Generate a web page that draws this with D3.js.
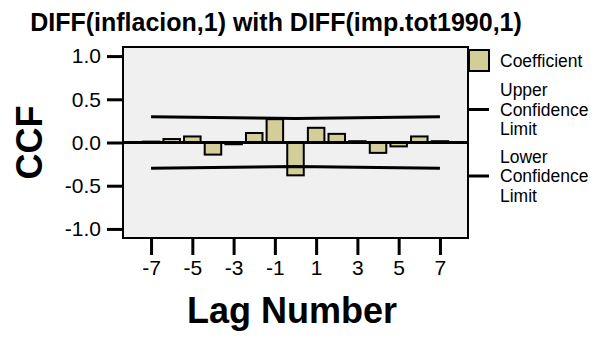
<!DOCTYPE html>
<html>
<head>
<meta charset="utf-8">
<script src="https://cdn.jsdelivr.net/npm/d3@7"></script>
<style>
  html, body { margin: 0; padding: 0; background: #fff; }
  svg { display: block; font-family: "Liberation Sans", Arial, sans-serif; }
</style>
</head>
<body>
<svg id="chart" width="614" height="341"></svg>
<script>
// Cross-correlation coefficients by lag
const lags = [-7, -6, -5, -4, -3, -2, -1, 0, 1, 2, 3, 4, 5, 6, 7];
const coefficients = [0.01, 0.04, 0.07, -0.14, -0.02, 0.11, 0.27, -0.38, 0.17, 0.10, 0.015, -0.12, -0.045, 0.07, 0.015];
const upperLimit = [0.299, 0.2955, 0.2922, 0.289, 0.2859, 0.2829, 0.28, 0.2772, 0.28, 0.2829, 0.2859, 0.289, 0.2922, 0.2955, 0.299];
const lowerLimit = [-0.299, -0.2955, -0.2922, -0.289, -0.2859, -0.2829, -0.28, -0.2772, -0.28, -0.2829, -0.2859, -0.289, -0.2922, -0.2955, -0.299];
const xTicks = [-7, -5, -3, -1, 1, 3, 5, 7];
const yTicks = [-1.0, -0.5, 0.0, 0.5, 1.0];

const svg = d3.select("#chart");
const plot = { left: 123, right: 468, top: 47, bottom: 238 };

const x = d3.scaleLinear().domain([-8.36, 8.36]).range([plot.left, plot.right]);
const y = d3.scaleLinear().domain([-1.105, 1.105]).range([plot.bottom, plot.top]);
const barW = (x(1) - x(0)) * 0.8;

const barFill = "#d3ce97";

// Plot background
svg.append("rect")
  .attr("x", plot.left).attr("y", plot.top)
  .attr("width", plot.right - plot.left).attr("height", plot.bottom - plot.top)
  .attr("fill", "#f0f0f0");

// Bars
svg.append("g").selectAll("rect")
  .data(lags.map((l, i) => ({ lag: l, v: coefficients[i] })))
  .join("rect")
  .attr("x", d => x(d.lag) - barW / 2)
  .attr("y", d => y(Math.max(0, d.v)))
  .attr("width", barW)
  .attr("height", d => Math.abs(y(d.v) - y(0)))
  .attr("fill", barFill)
  .attr("stroke", "#000")
  .attr("stroke-width", 2);

// Zero reference line
svg.append("line")
  .attr("x1", plot.left).attr("x2", plot.right)
  .attr("y1", y(0)).attr("y2", y(0))
  .attr("stroke", "#000").attr("stroke-width", 3);

// Confidence limits
const line = d3.line().x(d => x(d[0])).y(d => y(d[1]));
[upperLimit, lowerLimit].forEach(vals => {
  svg.append("path")
    .datum(lags.map((l, i) => [l, vals[i]]))
    .attr("d", line)
    .attr("fill", "none")
    .attr("stroke", "#000")
    .attr("stroke-width", 3);
});

// Frame
svg.append("rect")
  .attr("x", plot.left).attr("y", plot.top)
  .attr("width", plot.right - plot.left).attr("height", plot.bottom - plot.top)
  .attr("fill", "none").attr("stroke", "#000").attr("stroke-width", 2);

// Axes (plain hyphen for negative labels)
const yAxis = svg.append("g")
  .attr("transform", `translate(${plot.left},0)`)
  .call(d3.axisLeft(y).tickValues(yTicks).tickFormat(d => d.toFixed(1)).tickSize(16).tickPadding(6));
const xAxis = svg.append("g")
  .attr("transform", `translate(0,${plot.bottom})`)
  .call(d3.axisBottom(x).tickValues(xTicks).tickFormat(d => String(d)).tickSize(17).tickPadding(5));

[yAxis, xAxis].forEach(g => {
  g.select(".domain").remove();
  g.selectAll(".tick line").attr("stroke", "#000").attr("stroke-width", 3);
  g.selectAll(".tick text")
    .attr("fill", "#000")
    .attr("font-size", 21)
    .attr("font-family", "'Liberation Sans', Arial, sans-serif");
});

// Titles
svg.append("text")
  .attr("x", 276).attr("y", 31)
  .attr("text-anchor", "middle")
  .attr("font-size", 25).attr("font-weight", "bold")
  .text("DIFF(inflacion,1) with DIFF(imp.tot1990,1)");

svg.append("text")
  .attr("x", 292).attr("y", 323)
  .attr("text-anchor", "middle")
  .attr("font-size", 36).attr("font-weight", "bold")
  .text("Lag Number");

svg.append("text")
  .attr("transform", `translate(42,${(plot.top + plot.bottom) / 2}) rotate(-90)`)
  .attr("text-anchor", "middle")
  .attr("font-size", 36).attr("font-weight", "bold")
  .text("CCF");

// Legend
const legendFont = 17.5;
const legendLine = 19.5;
const legend = svg.append("g");
legend.append("rect")
  .attr("x", 469).attr("y", 50).attr("width", 20).attr("height", 21)
  .attr("fill", barFill).attr("stroke", "#000").attr("stroke-width", 2);
legend.append("text")
  .attr("x", 500).attr("y", 67)
  .attr("font-size", legendFont)
  .text("Coefficient");

const limitItems = [
  { lines: ["Upper", "Confidence", "Limit"], y: 109.5 },
  { lines: ["Lower", "Confidence", "Limit"], y: 176 }
];
limitItems.forEach(item => {
  legend.append("line")
    .attr("x1", 467).attr("x2", 489)
    .attr("y1", item.y).attr("y2", item.y)
    .attr("stroke", "#000").attr("stroke-width", 3);
  item.lines.forEach((s, i) => {
    legend.append("text")
      .attr("x", 500)
      .attr("y", item.y + 6 + (i - 1) * legendLine)
      .attr("font-size", legendFont)
      .text(s);
  });
});
</script>
</body>
</html>
